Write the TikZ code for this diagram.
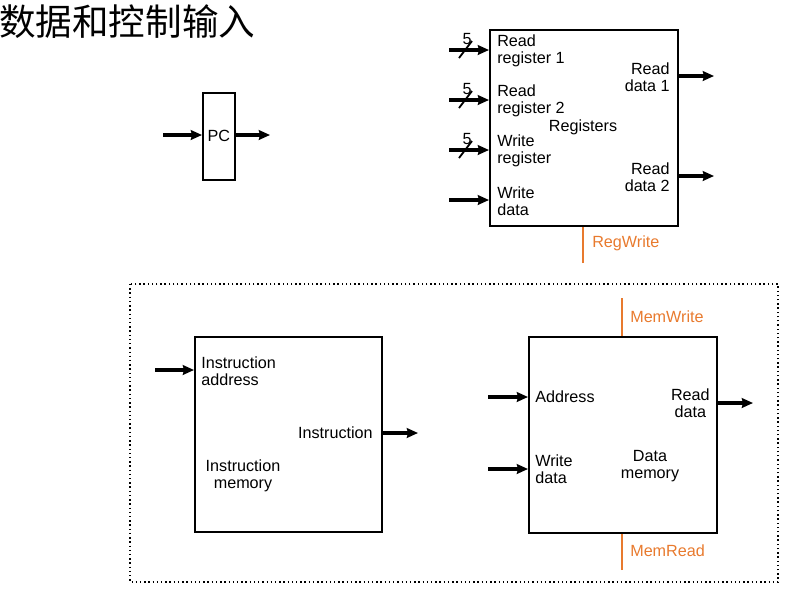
\documentclass[tikz,border=0pt]{standalone}
\usepackage{fontspec}
\setmainfont{Liberation Sans}
\newfontfamily\cjkfont{Noto Sans CJK SC}
\usepackage{tikz}
\usetikzlibrary{arrows.meta, positioning, calc}
\usepackage{xcolor}
\definecolor{ctrlorange}{HTML}{E87A2E}

\begin{document}
\begin{tikzpicture}[x=0.025cm, y=-0.025cm,
    unit/.style={draw, line width=1.3pt, inner sep=0pt, anchor=north west},
    bus/.style={line width=2.5pt, -{Stealth[length=8pt, width=7pt, inset=1pt]}},
    ctrl/.style={ctrlorange, line width=1.4pt},
    lbl/.style={font=\fontsize{11.5}{12.2}\selectfont, inner sep=0pt},
    sig/.style={lbl, text=ctrlorange, anchor=west}
  ]
    \useasboundingbox (0,0) rectangle (792,600);

    \node[anchor=west, inner sep=0pt, font=\cjkfont\fontsize{26}{28}\selectfont]
      (title) at (-1,22) {数据和控制输入};

    \node[unit, minimum width=0.8cm, minimum height=2.175cm] (pc) at (202,92) {};
    \node[lbl] (pclbl) at (pc.center) {PC};
    \coordinate (pcin) at (163,135);
    \coordinate (pcout) at (270,135);
    \draw[bus] (pcin) -- (pcin -| pc.west);
    \draw[bus] (pcout -| pc.east) -- (pcout);

    \node[unit, minimum width=4.7cm, minimum height=4.9cm] (regs) at (489,29) {};
    \node[lbl, anchor=west, align=left] (rr1) at (497,51) {Read\\register 1};
    \node[lbl, anchor=west, align=left] (rr2) at (497,101) {Read\\register 2};
    \node[lbl, anchor=west, align=left] (wr) at (497,151) {Write\\register};
    \node[lbl, anchor=west, align=left] (wd) at (497,201) {Write\\data};
    \node[lbl] (regname) at (583,127) {Registers};
    \node[lbl, anchor=east, align=right] (rd1) at (670,77) {Read\\data 1};
    \node[lbl, anchor=east, align=right] (rd2) at (670,177) {Read\\data 2};
    \foreach \n/\y in {1/50, 2/100, 3/150, 4/200} {
      \coordinate (rin\n) at (449,\y);
      \draw[bus] (rin\n) -- (rin\n -| regs.west);
    }
    \foreach \n in {1,2,3} {
      \draw[line width=1.3pt] ($(rin\n)+(10,8)$) -- ++(13,-17);
      \node[lbl] at ($(rin\n)+(18,-11)$) {5};
    }
    \coordinate (rout1) at (714,76);
    \coordinate (rout2) at (714,176);
    \draw[bus] (rout1 -| regs.east) -- (rout1);
    \draw[bus] (rout2 -| regs.east) -- (rout2);
    \coordinate (regwr) at (583,263);
    \draw[ctrl] (regwr) -- (regwr |- regs.south);
    \node[sig] (regwrlbl) at (592,243) {RegWrite};

    \draw[dotted, line width=1pt] (130,284) rectangle (778,582);

    \node[unit, minimum width=4.675cm, minimum height=4.875cm] (imem) at (194,336) {};
    \node[lbl, anchor=west, align=left] (iaddr) at (201,371) {Instruction\\address};
    \node[lbl, anchor=east] (iout) at (373,433) {Instruction};
    \node[lbl, align=center] (iname) at (243,476) {Instruction\\memory};
    \coordinate (imin) at (155,370);
    \coordinate (imout) at (418,433);
    \draw[bus] (imin) -- (imin -| imem.west);
    \draw[bus, line width=3.4pt] (imout -| imem.east) -- (imout);

    \node[unit, minimum width=4.7cm, minimum height=4.9cm] (dmem) at (528,336) {};
    \node[lbl, anchor=west] (daddr) at (535,397) {Address};
    \node[lbl, anchor=west, align=left] (dwd) at (535,469) {Write\\data};
    \node[lbl, anchor=east, align=center] (drd) at (710,403) {Read\\data};
    \node[lbl, align=center] (dname) at (650,466) {Data\\memory};
    \coordinate (din1) at (488,397);
    \coordinate (din2) at (488,469);
    \coordinate (dout) at (753,403);
    \draw[bus] (din1) -- (din1 -| dmem.west);
    \draw[bus] (din2) -- (din2 -| dmem.west);
    \draw[bus] (dout -| dmem.east) -- (dout);
    \coordinate (memwr) at (622,298);
    \coordinate (memrd) at (622,570);
    \draw[ctrl] (memwr) -- (memwr |- dmem.north);
    \draw[ctrl] (memrd) -- (memrd |- dmem.south);
    \node[sig] (memwrlbl) at (630,317) {MemWrite};
    \node[sig] (memrdlbl) at (630,551) {MemRead};
\end{tikzpicture}
\end{document}
